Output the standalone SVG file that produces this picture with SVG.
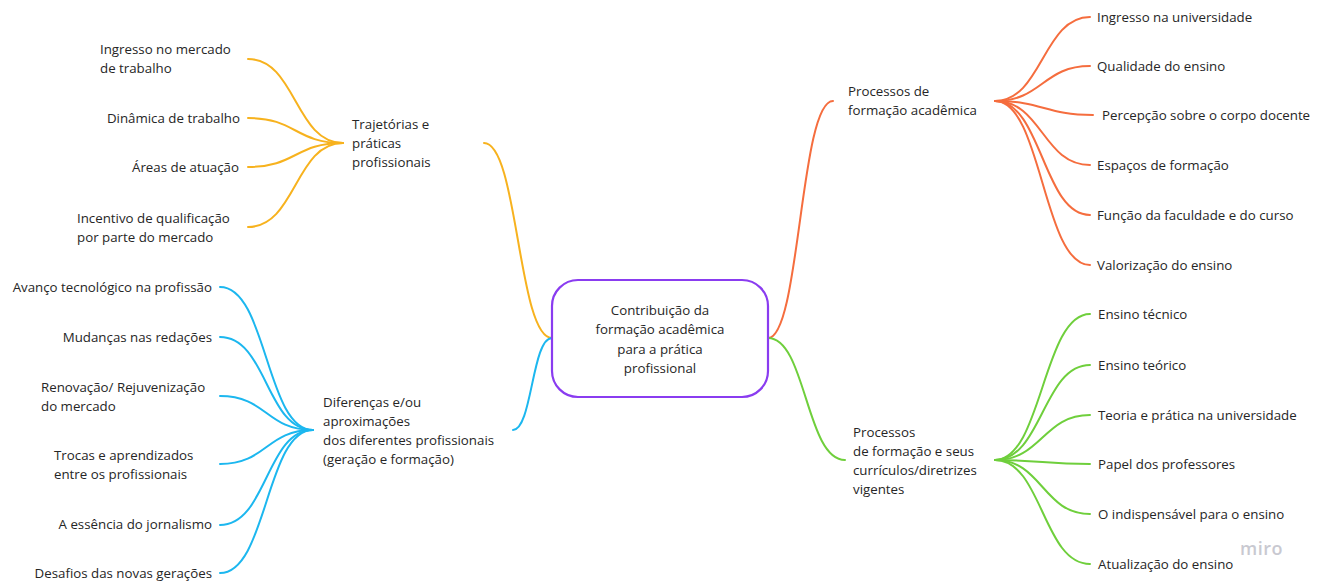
<svg xmlns="http://www.w3.org/2000/svg" width="1328" height="582" viewBox="0 0 1328 582">
<style>
text{font-family:"Open Sans","Liberation Sans",sans-serif;font-size:13.3px;fill:#262626}
.e{text-anchor:end}
.m{text-anchor:middle}
.c{fill:none;stroke-width:2;stroke-linecap:round}
.y{stroke:#f7b21e}
.b{stroke:#1cb7ef}
.o{stroke:#f56d3e}
.g{stroke:#6fcf3c}
.logo{font-size:18px;font-weight:600;fill:#c9c9d1;letter-spacing:0.5px}
</style>
<rect width="1328" height="582" fill="#ffffff"/>
<g id="connectors">
<!-- center to main topics -->
<path class="c y" d="M552 338 C518 338 518 143 484 143"/>
<path class="c b" d="M552 338 C532 338 532 430 513 430"/>
<path class="c o" d="M768 338 C800 338 800 101 833 101"/>
<path class="c g" d="M768 338 C806 338 806 460 845 460"/>
<!-- yellow children -->
<path class="c y" d="M343 143 C295 143 296 59 248 59"/>
<path class="c y" d="M343 143 C295 143 296 118 248 118"/>
<path class="c y" d="M343 143 C295 143 296 167 248 167"/>
<path class="c y" d="M343 143 C295 143 296 227 248 227"/>
<!-- blue children -->
<path class="c b" d="M313 430 C266 430 267 287 220 287"/>
<path class="c b" d="M313 430 C266 430 267 337 220 337"/>
<path class="c b" d="M313 430 C266 430 267 396 220 396"/>
<path class="c b" d="M313 430 C266 430 267 464 220 464"/>
<path class="c b" d="M313 430 C266 430 267 525 220 525"/>
<path class="c b" d="M313 430 C266 430 267 573 220 573"/>
<!-- orange children -->
<path class="c o" d="M995 101 C1042 101 1043 17 1090 17"/>
<path class="c o" d="M995 101 C1042 101 1043 66 1090 66"/>
<path class="c o" d="M995 101 C1043 101 1045 115 1093 115"/>
<path class="c o" d="M995 101 C1042 101 1043 165 1090 165"/>
<path class="c o" d="M995 101 C1042 101 1043 215 1090 215"/>
<path class="c o" d="M995 101 C1042 101 1043 265 1090 265"/>
<!-- green children -->
<path class="c g" d="M995 460 C1042 460 1043 314 1090 314"/>
<path class="c g" d="M995 460 C1042 460 1043 365 1090 365"/>
<path class="c g" d="M995 460 C1042 460 1043 415 1090 415"/>
<path class="c g" d="M995 460 C1042 460 1043 464 1090 464"/>
<path class="c g" d="M995 460 C1042 460 1043 514 1090 514"/>
<path class="c g" d="M995 460 C1042 460 1043 564 1090 564"/>
</g>
<g id="center">
<rect x="552" y="280" width="216" height="117" rx="26" ry="26" fill="#ffffff" stroke="#8a3cf0" stroke-width="2.2"/>
<text class="m" x="660" y="315">Contribuição da</text>
<text class="m" x="660" y="334">formação acadêmica</text>
<text class="m" x="660" y="354">para a prática</text>
<text class="m" x="660" y="373">profissional</text>
</g>
<g id="trajetorias">
<text x="352" y="129">Trajetórias e</text>
<text x="352" y="148">práticas</text>
<text x="352" y="167">profissionais</text>
</g>
<g id="y1"><text x="100" y="54">Ingresso no mercado</text><text x="100" y="73">de trabalho</text></g>
<g id="y2"><text class="e" x="240" y="123">Dinâmica de trabalho</text></g>
<g id="y3"><text class="e" x="239" y="172">Áreas de atuação</text></g>
<g id="y4"><text x="77" y="223">Incentivo de qualificação</text><text x="77" y="242">por parte do mercado</text></g>
<g id="diferencas">
<text x="323" y="407">Diferenças e/ou</text>
<text x="323" y="426">aproximações</text>
<text x="323" y="445">dos diferentes profissionais</text>
<text x="323" y="464">(geração e formação)</text>
</g>
<g id="b1"><text class="e" x="212" y="292">Avanço tecnológico na profissão</text></g>
<g id="b2"><text class="e" x="212" y="342">Mudanças nas redações</text></g>
<g id="b3"><text x="41" y="392">Renovação/ Rejuvenização</text><text x="41" y="411">do mercado</text></g>
<g id="b4"><text x="54" y="460">Trocas e aprendizados</text><text x="54" y="479">entre os profissionais</text></g>
<g id="b5"><text class="e" x="212" y="529">A essência do jornalismo</text></g>
<g id="b6"><text class="e" x="212" y="578">Desafios das novas gerações</text></g>
<g id="processos-formacao">
<text x="848" y="96">Processos de</text>
<text x="848" y="115">formação acadêmica</text>
</g>
<g id="o1"><text x="1097" y="22">Ingresso na universidade</text></g>
<g id="o2"><text x="1097" y="71">Qualidade do ensino</text></g>
<g id="o3"><text x="1102" y="120">Percepção sobre o corpo docente</text></g>
<g id="o4"><text x="1097" y="170">Espaços de formação</text></g>
<g id="o5"><text x="1097" y="220">Função da faculdade e do curso</text></g>
<g id="o6"><text x="1097" y="270">Valorização do ensino</text></g>
<g id="processos-curriculos">
<text x="853" y="437">Processos</text>
<text x="853" y="456">de formação e seus</text>
<text x="853" y="475">currículos/diretrizes</text>
<text x="853" y="494">vigentes</text>
</g>
<g id="g1"><text x="1098" y="319">Ensino técnico</text></g>
<g id="g2"><text x="1098" y="370">Ensino teórico</text></g>
<g id="g3"><text x="1098" y="420">Teoria e prática na universidade</text></g>
<g id="g4"><text x="1098" y="469">Papel dos professores</text></g>
<g id="g5"><text x="1098" y="519">O indispensável para o ensino</text></g>
<g id="g6"><text x="1098" y="569">Atualização do ensino</text></g>
<text class="logo" x="1240" y="555">miro</text>
</svg>
